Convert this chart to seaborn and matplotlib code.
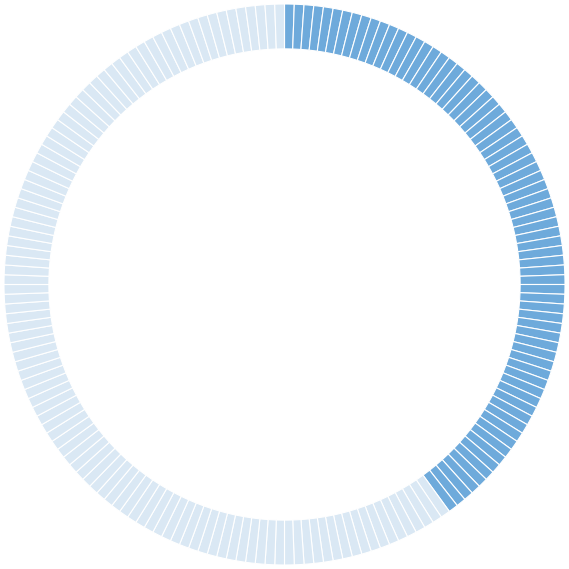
"""Segmented gauge ring: 40% filled, 180 ticks."""

import numpy as np
import matplotlib as mpl
mpl.use("Agg")
import matplotlib.pyplot as plt
import seaborn as sns

# data
n_segments = 180
filled_pct = 40            # percent of the ring that is highlighted
filled_color = "#6eaadb"
empty_color = "#dae8f4"

n_filled = round(n_segments * filled_pct / 100)
segment_sizes = [1] * n_segments
segment_colors = [filled_color] * n_filled + [empty_color] * (n_segments - n_filled)

sns.set_theme(style="white")

fig = plt.figure(figsize=(5.69, 5.69), dpi=100)
ax = fig.add_axes([0, 0, 1, 1])

ax.pie(segment_sizes, colors=segment_colors, startangle=90, counterclock=False,
       radius=1.0,
       wedgeprops=dict(width=0.16, edgecolor="white", linewidth=0.8))

lim = 284.5 / 280.5
ax.set_xlim(-lim, lim)
ax.set_ylim(-lim, lim)
ax.set_aspect("equal")
ax.axis("off")

fig.savefig("out.png", dpi=100, facecolor="white")
plt.close(fig)
